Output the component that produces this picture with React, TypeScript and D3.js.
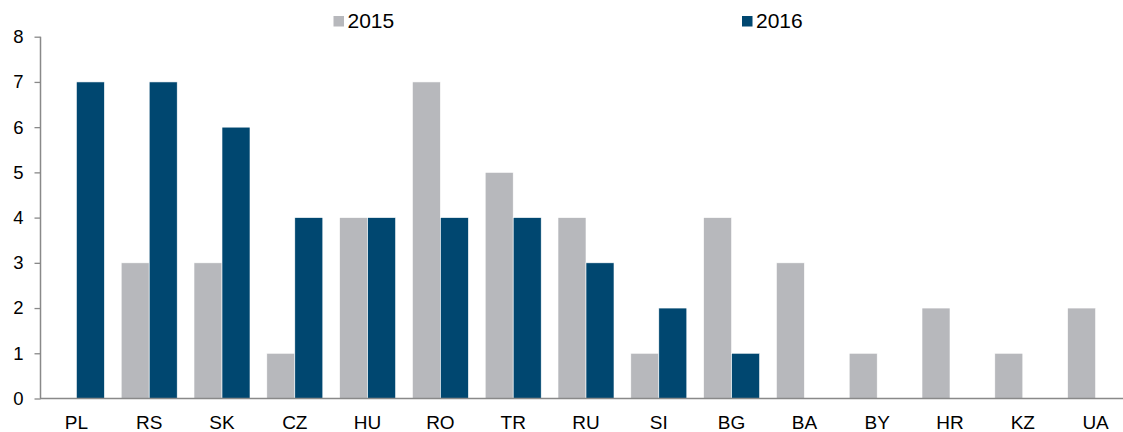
import { useEffect, useRef } from "react";
import * as d3 from "d3";

const categories = ["PL", "RS", "SK", "CZ", "HU", "RO", "TR", "RU", "SI", "BG", "BA", "BY", "HR", "KZ", "UA"];
const seriesNames = ["2015", "2016"];
const values2015 = [0, 3, 3, 1, 4, 7, 5, 4, 1, 4, 3, 1, 2, 1, 2];
const values2016 = [7, 7, 6, 4, 4, 4, 4, 3, 2, 1, 0, 0, 0, 0, 0];
const yTicks = [0, 1, 2, 3, 4, 5, 6, 7, 8];
const colors = ["#b7b8bc", "#004770"];

const W = 1123;
const H = 432;

const App = () => {
  const ref = useRef<SVGSVGElement>(null);

  useEffect(() => {
    const svg = d3.select(ref.current);
    svg.selectAll("*").remove();
    const font = "'Liberation Sans', Arial, sans-serif";

    const x0 = d3.scaleBand().domain(categories).range([40, 40 + 15 * 72.8]).padding(0);
    const x1 = d3.scaleBand().domain(seriesNames).range([8.4, 64.4]);
    const y = d3.scaleLinear().domain([0, 8]).range([398.5, 36.7]);

    const rows = categories.map((c, i) => ({ c, v: [values2015[i], values2016[i]] }));

    // bars
    const g = svg.append("g");
    rows.forEach((r) => {
      r.v.forEach((v, j) => {
        if (v <= 0) return;
        g.append("rect")
          .attr("x", (x0(r.c) as number) + (x1(seriesNames[j]) as number))
          .attr("width", x1.bandwidth())
          .attr("y", y(v))
          .attr("height", y(0) - y(v))
          .attr("fill", colors[j])
          .attr("stroke", "#ffffff")
          .attr("stroke-width", 0.6);
      });
    });

    // y axis
    const yAxis = svg
      .append("g")
      .attr("transform", "translate(40.5,0)")
      .call(d3.axisLeft(y).tickValues(yTicks).tickSize(6).tickPadding(11).tickFormat(d3.format("d")));
    yAxis.select(".domain").attr("stroke", "#898989").attr("stroke-width", 1.5).attr("d", `M0,${y(8)}V${y(0)}`);
    yAxis.selectAll(".tick line").attr("stroke", "#898989").attr("stroke-width", 1.3);
    yAxis.selectAll(".tick text").attr("font-family", font).attr("font-size", 18.5).attr("fill", "#000");

    // x axis
    svg
      .append("line")
      .attr("x1", 40)
      .attr("x2", W)
      .attr("y1", y(0))
      .attr("y2", y(0))
      .attr("stroke", "#898989")
      .attr("stroke-width", 1.5);
    svg
      .append("g")
      .selectAll("text")
      .data(categories)
      .enter()
      .append("text")
      .attr("x", (d) => (x0(d) as number) + x0.bandwidth() / 2)
      .attr("y", 429.3)
      .attr("text-anchor", "middle")
      .attr("font-family", font)
      .attr("font-size", 19)
      .attr("fill", "#000")
      .text((d) => d);

    // legend
    const legendX = [333.5, 742];
    seriesNames.forEach((s, j) => {
      svg
        .append("rect")
        .attr("x", legendX[j])
        .attr("y", 16)
        .attr("width", 10.5)
        .attr("height", 10.5)
        .attr("fill", colors[j]);
      svg
        .append("text")
        .attr("x", legendX[j] + 14)
        .attr("y", 28.3)
        .attr("font-family", font)
        .attr("font-size", 21)
        .attr("fill", "#000")
        .text(s);
    });
  }, []);

  return (
    <svg
      ref={ref}
      width={W}
      height={H}
      style={{ position: "absolute", left: 0, top: 0, background: "#fff" }}
    />
  );
};

export default App;
